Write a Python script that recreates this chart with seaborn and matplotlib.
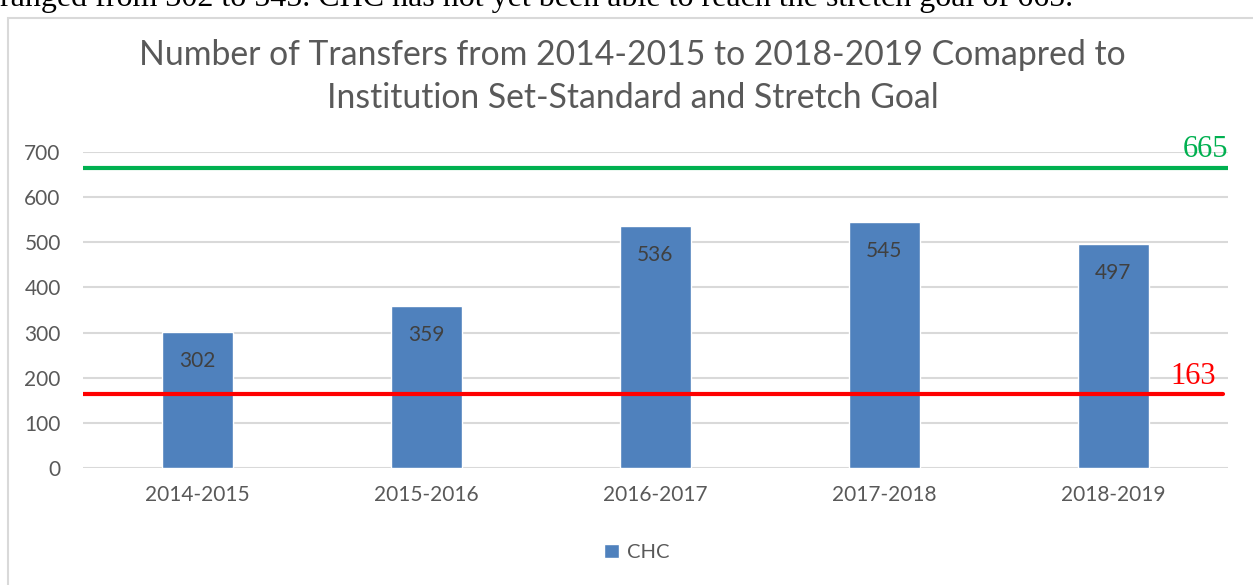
import matplotlib
matplotlib.use("Agg")
import matplotlib.pyplot as plt
import seaborn as sns
import pandas as pd
from matplotlib.patches import Rectangle, Patch

# Data
years = ["2014-2015", "2015-2016", "2016-2017", "2017-2018", "2018-2019"]
transfers = [302, 359, 536, 545, 497]
stretch_goal = 665
set_standard = 163
series_name = "CHC"

df = pd.DataFrame({"year": years, "transfers": transfers})

sns.set_theme(style="white")
plt.rcParams["font.family"] = ["Lato", "DejaVu Sans"]

fig = plt.figure(figsize=(12.53, 5.85), dpi=100)
ax = fig.add_axes([0.0662, 0.2, 0.9138, 0.54])

bar_color = "#4F81BD"
text_gray = "#595959"

sns.barplot(data=df, x="year", y="transfers", color=bar_color, width=0.31,
            saturation=1, ax=ax, zorder=2)

ax.set_ylim(0, 700)
ax.set_xlim(-0.5, 4.5)
ax.set_yticks(range(0, 701, 100))
ax.yaxis.grid(True, color="#D9D9D9", linewidth=1.5, zorder=0)
ax.set_axisbelow(True)
for s in ax.spines.values():
    s.set_visible(False)
ax.set_xlabel("")
ax.set_ylabel("")
ax.tick_params(axis="both", length=0, labelsize=15, colors=text_gray)
ax.tick_params(axis="x", pad=12)
ax.tick_params(axis="y", pad=16)

# Value labels inside bars
for i, v in enumerate(transfers):
    ax.annotate(str(v), (i, v), xytext=(0, -21), textcoords="offset points",
                ha="center", va="center", fontsize=15, color="#404040", zorder=4)

# Goal lines
ax.axhline(stretch_goal, color="#00B050", linewidth=3, zorder=3)
ax.axhline(set_standard, xmax=0.996, color="#FF0000", linewidth=3, zorder=3)
ax.text(4.5, stretch_goal + 8, str(stretch_goal), ha="right", va="bottom",
        fontsize=22, color="#00B050", family="Liberation Serif")
ax.text(4.45, set_standard + 8, str(set_standard), ha="right", va="bottom",
        fontsize=22, color="#FF0000", family="Liberation Serif")

# Title
fig.text(0.505, 0.870, "Number of Transfers from 2014-2015 to 2018-2019 Comapred to\n"
         "Institution Set-Standard and Stretch Goal",
         ha="center", va="center", fontsize=24.3, color=text_gray, linespacing=1.42)

# Legend
fig.legend(handles=[Patch(facecolor=bar_color, label=series_name)],
           loc="center", bbox_to_anchor=(0.508, 0.056), frameon=False,
           fontsize=14.5, handlelength=0.75, handleheight=0.75, handletextpad=0.4,
           labelcolor=text_gray)

# Chart border
fig.patches.append(Rectangle((8 / 1253, -0.1), 1.2, 1 - 18 / 585 + 0.1,
                             transform=fig.transFigure, fill=False,
                             edgecolor="#D9D9D9", linewidth=1.5))

# Clipped document text above the chart
fig.text(0.0, 1 - 6 / 585, "ranged from 302 to 545. CHC has not yet been able to reach the stretch goal of 665.",
         ha="left", va="baseline", fontsize=23, family="Liberation Serif", color="black")

fig.savefig("out.png", dpi=100)
